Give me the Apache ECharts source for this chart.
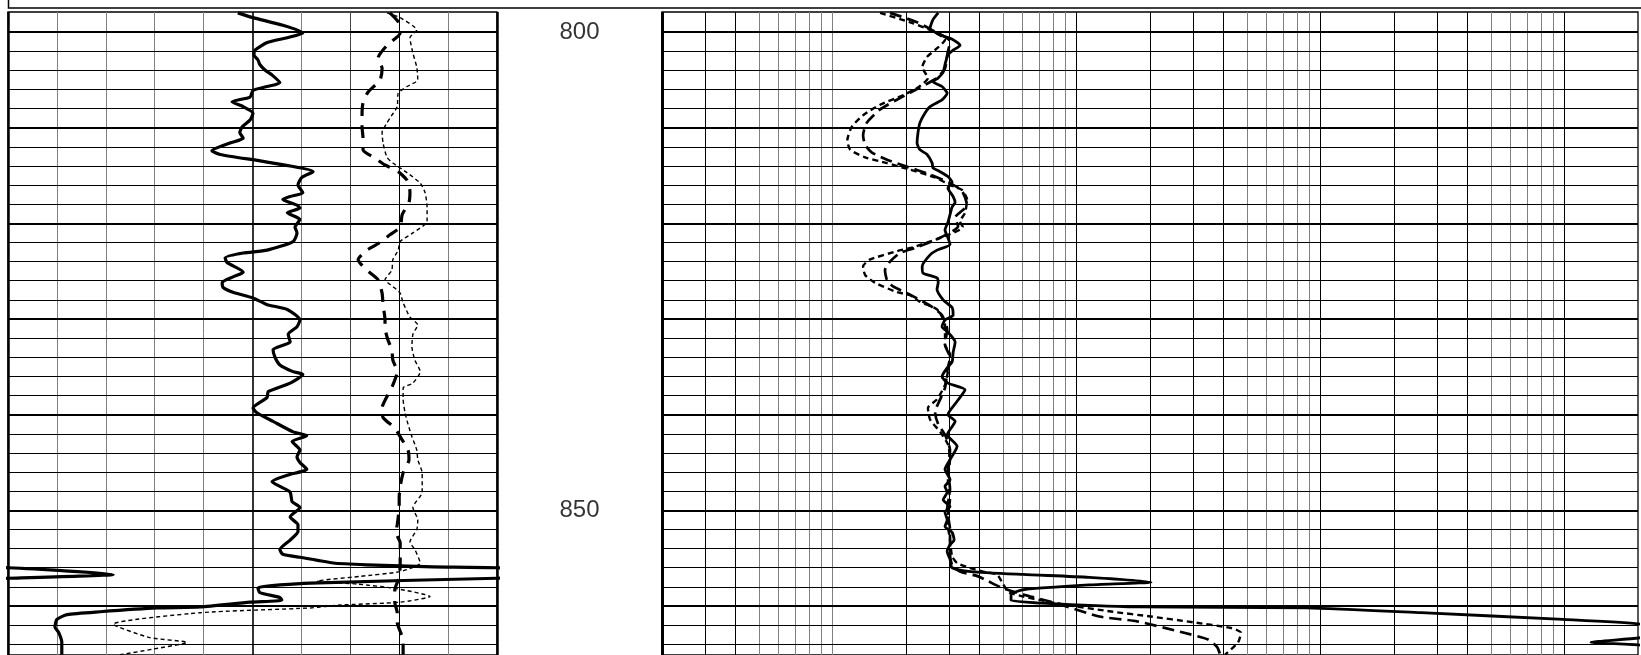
<!DOCTYPE html>
<html>
<head>
<meta charset="utf-8">
<script src="https://cdn.jsdelivr.net/npm/echarts@6/dist/echarts.min.js"></script>
<style>
html,body{margin:0;padding:0;background:#fff;}
#chart{width:1641px;height:655px;}
</style>
</head>
<body>
<div id="chart"></div>
<script>
// ---- Depth scale ----
const depthMin = 797.91;
const depthMax = 865.12;
const depthLabels = [800, 850];
const depthGridLines = [800,802,804,806,808,810,812,814,816,818,820,822,824,826,828,830,832,834,836,838,840,842,844,846,848,850,852,854,856,858,860,862,864];

// ---- Left track (linear 0-100, backup 100-200) ----
const leftGridLines = [10,20,30,40,50,60,70,80,90];
const leftCurveSolid = [[47.0,798.0],[50.1,798.5],[56.2,799.3],[60.3,800.1],[57.1,800.6],[53.0,801.1],[50.5,801.9],[50.3,802.4],[51.1,802.9],[51.5,803.4],[52.6,804.0],[54.0,804.5],[55.6,805.3],[53.0,805.7],[50.1,806.1],[49.5,806.8],[45.8,807.3],[48.1,807.8],[50.1,808.5],[49.5,809.2],[47.9,809.9],[47.4,810.5],[48.1,811.1],[45.4,811.6],[41.7,812.4],[43.4,812.8],[53.0,813.6],[62.4,814.6],[60.1,815.2],[59.3,816.0],[60.3,816.8],[57.7,817.2],[56.2,817.5],[59.1,818.1],[59.7,818.4],[57.1,818.9],[59.7,819.6],[58.7,820.4],[59.1,821.0],[58.3,821.9],[53.0,822.8],[48.1,823.1],[44.4,823.6],[44.8,824.1],[48.1,825.1],[46.0,825.6],[43.8,826.2],[44.0,826.7],[46.0,827.2],[50.1,827.8],[53.0,828.5],[57.1,829.0],[59.7,830.1],[59.1,830.8],[57.3,831.6],[57.7,832.4],[54.2,833.2],[54.6,834.0],[55.6,834.8],[58.3,835.5],[60.3,835.8],[57.7,836.7],[53.2,837.6],[53.0,838.2],[50.1,839.3],[50.9,839.8],[54.2,840.7],[58.3,841.8],[61.1,842.2],[58.1,842.8],[59.7,843.7],[59.1,844.4],[59.7,845.0],[61.1,845.7],[57.3,846.3],[54.0,847.0],[55.6,847.5],[57.7,848.1],[58.1,849.1],[59.7,849.7],[57.7,850.7],[59.3,851.5],[59.3,852.2],[57.7,853.1],[55.6,854.1],[56.2,854.6],[59.7,854.9],[66.5,855.5],[73.4,855.7],[80.2,855.8],[86.9,855.9],[100,856.0],[121.5,856.7],[100,857.1],[61.8,857.6],[51.1,858.1],[51.5,858.6],[55.6,859.1],[56.0,859.4],[49.5,859.6],[39.3,860.1],[30.5,860.2],[18.8,860.6],[12.1,860.9],[10.0,861.4],[9.6,862.2],[10.4,862.8],[11.0,863.8],[11.0,865.1]];
const leftCurveLongDash = [[78.1,798.0],[80.2,799.3],[80.2,800.1],[77.5,801.4],[75.7,802.7],[76.5,803.8],[76.1,805.0],[73.6,806.3],[72.6,807.4],[72.4,808.7],[72.4,809.9],[72.6,811.1],[72.6,812.3],[75.1,813.2],[77.1,813.9],[79.8,814.6],[81.6,815.5],[82.2,816.7],[82.0,817.8],[80.6,819.1],[80.2,820.4],[78.1,821.2],[76.1,822.0],[73.4,822.8],[71.6,823.8],[73.4,824.9],[75.7,825.9],[76.5,827.3],[76.7,828.5],[77.1,830.1],[77.1,830.9],[77.7,832.2],[78.5,833.2],[78.7,834.3],[79.6,835.5],[78.7,836.9],[77.7,837.9],[76.5,839.3],[76.7,840.3],[79.1,841.4],[80.2,842.3],[81.8,843.7],[82.0,844.7],[80.8,846.1],[80.2,847.5],[80.0,848.6],[80.0,849.6],[79.6,851.5],[79.3,852.3],[80.2,853.4],[80.2,854.6],[80.2,855.5],[80.0,857.0],[79.1,858.3],[79.1,859.6],[79.6,860.7],[79.6,861.7],[80.6,863.2],[80.8,864.2],[80.8,865.1]];
const leftCurveShortDash = [[77.5,798.0],[80.2,798.5],[83.6,799.8],[82.2,800.6],[82.8,802.2],[83.6,803.7],[83.8,805.0],[81.6,805.7],[79.8,806.4],[79.6,807.8],[78.5,808.7],[77.5,809.5],[76.5,810.5],[76.7,811.6],[77.5,813.1],[78.7,813.7],[81.6,814.7],[84.3,815.8],[85.3,816.8],[85.7,818.3],[85.7,819.8],[82.8,821.0],[80.2,821.9],[79.8,822.8],[78.7,823.8],[78.5,824.9],[77.1,825.9],[78.7,826.6],[80.2,827.3],[80.8,828.3],[82.2,829.8],[83.8,830.6],[82.8,831.6],[82.6,832.9],[83.2,834.3],[84.3,835.5],[82.8,836.7],[80.8,837.2],[80.8,838.4],[81.2,839.8],[81.8,841.0],[82.6,842.3],[83.6,843.7],[83.8,844.7],[84.7,846.1],[84.7,848.1],[82.8,849.7],[83.8,851.0],[83.6,852.0],[82.2,853.3],[83.2,854.1],[84.3,855.5],[80.2,856.4],[72.0,856.9],[63.2,857.4],[71.4,857.7],[79.6,858.2],[86.3,859.0],[80.2,859.6],[67.9,859.9],[61.8,860.2],[39.3,860.7],[21.5,861.9],[29.0,863.3],[36.6,863.8],[29.7,864.5],[22.9,865.1]];

// ---- Right track (log 0.2-2000) ----
const rightGridLines = [0.3,0.4,0.5,0.6,0.7,0.8,0.9,1,2,3,4,5,6,7,8,9,10,20,30,40,50,60,70,80,90,100,200,300,400,500,600,700,800,900,1000];
const rightDarkLines = [0.3,0.4,2,3,4,10,20,30,40,100,200,300,400,1000];
const rightCurveSolid = [[2.71,798.0],[2.58,798.7],[2.51,799.6],[2.76,800.3],[3.12,800.8],[3.33,801.4],[3.12,801.9],[2.97,802.4],[2.89,803.4],[2.84,804.2],[2.71,804.8],[2.58,805.2],[2.81,805.7],[2.95,806.4],[2.81,807.1],[2.51,807.8],[2.39,808.5],[2.28,809.5],[2.24,810.5],[2.22,811.6],[2.28,812.3],[2.44,812.8],[2.56,813.7],[2.58,814.2],[2.76,814.6],[2.97,815.1],[3.09,815.7],[2.97,816.3],[3.12,817.2],[3.18,817.8],[3.09,818.3],[3.03,819.1],[2.97,819.9],[2.89,820.7],[2.97,821.5],[3.03,822.2],[2.68,822.8],[2.51,823.3],[2.33,824.5],[2.35,825.2],[2.68,825.7],[2.71,826.2],[2.68,826.9],[2.84,828.0],[3.09,828.8],[3.12,829.6],[2.89,830.1],[2.81,830.8],[2.95,831.3],[3.18,832.4],[3.12,833.5],[3.09,834.5],[2.95,835.1],[2.81,836.0],[2.97,836.7],[3.49,837.4],[3.24,838.6],[2.97,840.0],[3.18,840.7],[2.95,842.1],[3.24,843.3],[3.03,844.7],[2.89,845.7],[3.03,846.8],[2.89,847.5],[2.95,848.1],[2.84,848.9],[3.03,849.6],[2.89,850.2],[2.95,851.0],[2.89,851.7],[3.09,852.3],[3.15,853.1],[3.03,853.6],[2.95,854.3],[3.03,855.1],[3.09,856.0],[3.69,856.4],[6.04,856.7],[11.25,857.0],[20.2,857.5],[11.25,857.8],[6.04,858.3],[5.39,858.8],[5.39,859.4],[7.22,859.7],[17.7,860.1],[88.0,860.2],[258,860.7],[986,861.4],[2058,861.9],[2600,862.7],[2058,863.3],[1284,863.8],[2058,864.1],[2500,865.1]];
const rightCurveLongDash = [[1.72,798.0],[2.18,798.9],[2.56,799.8],[3.03,801.0],[2.95,802.4],[2.89,803.8],[2.68,804.8],[2.28,805.8],[1.89,806.9],[1.566,808.1],[1.38,809.5],[1.334,810.8],[1.36,811.8],[1.45,812.6],[1.69,813.4],[1.98,814.0],[2.51,814.9],[3.03,815.8],[3.39,816.6],[3.56,818.1],[3.18,819.4],[3.27,820.3],[2.76,821.5],[2.22,822.5],[1.89,823.1],[1.72,824.0],[1.64,824.9],[1.67,825.9],[1.77,826.6],[2.02,827.3],[2.28,828.0],[2.58,828.8],[2.81,829.6],[2.95,831.1],[2.89,832.7],[3.03,834.0],[2.95,835.5],[2.89,837.2],[2.76,838.4],[2.63,839.7],[2.71,841.0],[2.89,842.1],[3.03,843.7],[2.97,845.7],[3.03,847.8],[2.95,849.9],[3.03,852.0],[3.03,854.6],[3.09,855.7],[3.33,856.4],[3.95,856.9],[4.34,857.4],[4.95,858.1],[6.04,858.8],[8.24,859.7],[12.4,861.1],[17.7,861.6],[27.6,862.8],[34.6,863.5],[37.7,864.3],[38.8,865.1]];
const rightCurveShortDash = [[1.566,798.0],[2.14,799.1],[2.51,799.8],[2.89,800.8],[2.63,801.9],[2.44,802.6],[2.33,803.7],[2.46,804.8],[2.24,805.8],[1.95,806.6],[1.566,807.6],[1.334,808.7],[1.20,809.9],[1.15,811.3],[1.18,812.3],[1.36,813.1],[1.67,813.7],[2.08,814.4],[2.63,815.2],[3.03,816.0],[3.39,816.5],[3.56,817.5],[3.49,818.9],[3.33,819.8],[3.42,820.4],[2.84,821.4],[2.14,822.5],[1.84,822.9],[1.42,823.8],[1.334,824.5],[1.36,825.4],[1.49,826.2],[1.84,827.2],[2.08,827.5],[2.28,828.2],[2.68,829.0],[2.89,830.6],[2.89,832.7],[3.03,833.7],[2.97,835.5],[2.89,836.9],[2.68,838.4],[2.46,839.3],[2.51,840.5],[2.76,841.8],[2.97,843.1],[3.03,844.7],[2.97,846.8],[3.03,848.9],[2.95,851.0],[3.03,853.1],[3.09,854.8],[3.24,855.5],[3.63,856.0],[4.14,856.4],[4.72,856.7],[4.95,857.5],[5.29,858.6],[8.24,859.7],[14.1,860.6],[20.2,861.1],[30.0,861.7],[43.0,862.3],[47.2,862.8],[45.9,863.8],[40.6,865.1]];

// ---- build option ----
function hLines(){
  return depthGridLines.map(d => ({
    yAxis: d,
    lineStyle: {color:'#000', width: (d % 10 === 0) ? 2 : 1, type:'solid'}
  }));
}
function gridSeries(xIdx, yIdx, vLines){
  return {
    type:'line', xAxisIndex:xIdx, yAxisIndex:yIdx, data:[], silent:true, z:1,
    markLine:{
      silent:true, symbol:['none','none'], animation:false, z:1,
      label:{show:false}, emphasis:{disabled:true},
      data: vLines.concat(hLines())
    }
  };
}
const leftV = leftGridLines.map(v => ({
  xAxis: v,
  lineStyle: {type:'solid', color: (v===50||v===80) ? '#000' : (v===70 ? '#444' : '#808080'), width: v===50 ? 1.6 : 1}
})).concat([
  {xAxis:0, lineStyle:{type:'solid', color:'#000', width:2.5}},
  {xAxis:100, lineStyle:{type:'solid', color:'#000', width:2.5}}
]);
const rightV = rightGridLines.map(v => ({
  xAxis: v,
  lineStyle: {type:'solid', color: rightDarkLines.includes(v) ? '#000' : '#808080', width:1}
})).concat([{xAxis:0.2, lineStyle:{type:'solid', color:'#000', width:3}}]);

function curve(name, data, xIdx, yIdx, width, dash){
  return {
    name, type:'line', data, xAxisIndex:xIdx, yAxisIndex:yIdx,
    showSymbol:false, symbol:'none', smooth:0.2, clip:true, z:10,
    lineStyle:{color:'#000', width, type: dash || 'solid', cap:'butt', join:'round'},
    silent:true, animation:false
  };
}

const yBase = {type:'value', inverse:true, min:depthMin, max:depthMax, show:false};

const option = {
  animation:false,
  backgroundColor:'#fff',
  grid:[
    {left:8, top:12, width:489, height:643, show:true, borderColor:'#000', borderWidth:1.3},
    {left:662, top:12, width:976, height:643, show:true, borderColor:'#000', borderWidth:1.3},
    {left:497, top:12, width:165, height:643, show:false}
  ],
  xAxis:[
    {gridIndex:0, type:'value', min:0, max:100, show:false},
    {gridIndex:0, type:'value', min:100, max:200, show:false},
    {gridIndex:1, type:'log', logBase:10, min:0.2, max:2000, show:false},
    {gridIndex:2, type:'value', min:0, max:1, show:false}
  ],
  yAxis:[
    Object.assign({gridIndex:0}, yBase),
    Object.assign({gridIndex:0}, yBase),
    Object.assign({gridIndex:1}, yBase),
    Object.assign({gridIndex:2}, yBase)
  ],
  graphic:[
    {type:'rect', shape:{x:8.5, y:-20, width:1660, height:28}, style:{fill:'none', stroke:'#000', lineWidth:1.5}, silent:true}
  ],
  series:[
    gridSeries(0,0,leftV),
    gridSeries(2,2,rightV),
    curve('GR', leftCurveSolid, 0, 0, 3.2),
    curve('GR backup', leftCurveSolid, 1, 1, 3.2),
    curve('Long dash L', leftCurveLongDash, 0, 0, 3.2, [13,9]),
    curve('Short dash L', leftCurveShortDash, 0, 0, 1.4, [4,3]),
    curve('Deep', rightCurveSolid, 2, 2, 2.8),
    curve('Medium', rightCurveLongDash, 2, 2, 2.7, [12,6]),
    curve('Shallow', rightCurveShortDash, 2, 2, 2.4, [6,4]),
    {
      type:'scatter', xAxisIndex:3, yAxisIndex:3, silent:true,
      symbolSize:1, itemStyle:{color:'rgba(0,0,0,0)'},
      data: depthLabels.map(d => [0.5, d]),
      label:{show:true, position:'inside', formatter: p => String(p.value[1]),
        color:'#000', fontSize:24, fontFamily:'"Liberation Sans", Arial, sans-serif'}
    }
  ]
};
const chart = echarts.init(document.getElementById('chart'), null, {renderer:'canvas'});
chart.setOption(option);
</script>
</body>
</html>
